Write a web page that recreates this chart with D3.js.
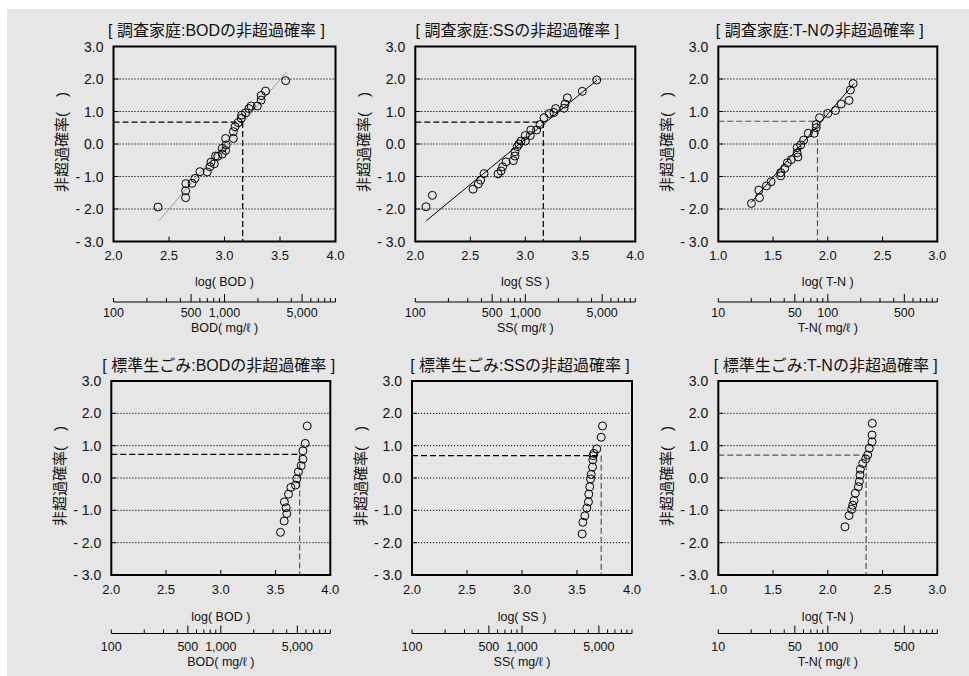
<!DOCTYPE html>
<html><head><meta charset="utf-8">
<script src="https://cdn.jsdelivr.net/npm/d3@7/dist/d3.min.js"></script>
<style>body{margin:0;background:#fff}svg{display:block}</style>
</head><body><svg id="c" width="969" height="676"></svg>
<script>
// ---------- data ----------
const titles = ["[ 調査家庭:BODの非超過確率 ]","[ 調査家庭:SSの非超過確率 ]","[ 調査家庭:T-Nの非超過確率 ]",
                "[ 標準生ごみ:BODの非超過確率 ]","[ 標準生ごみ:SSの非超過確率 ]","[ 標準生ごみ:T-Nの非超過確率 ]"];
const params = ["BOD","SS","T-N","BOD","SS","T-N"];
const xMins = [2,2,1,2,2,1];
const xMaxs = [4,4,3,4,4,3];
const yTicks = [3,2,1,0,-1,-2,-3];
const gridValues = [2,1,0,-1,-2];
const yLabel = "非超過確率(　)";

const homeBodX = [2.401,2.650,2.650,2.652,2.707,2.734,2.779,2.845,2.869,2.878,2.908,2.920,2.940,2.980,2.980,3.010,3.015,3.010,3.080,3.080,3.095,3.124,3.151,3.155,3.190,3.220,3.240,3.296,3.330,3.330,3.370,3.551];
const homeBodY = [-1.94,-1.65,-1.44,-1.22,-1.21,-1.06,-0.85,-0.86,-0.70,-0.56,-0.61,-0.37,-0.38,-0.31,-0.13,-0.20,-0.03,0.17,0.17,0.38,0.53,0.66,0.79,0.89,0.96,1.09,1.17,1.17,1.35,1.49,1.63,1.95];
const homeSsX = [2.097,2.155,2.525,2.573,2.594,2.625,2.752,2.779,2.794,2.825,2.891,2.906,2.906,2.927,2.943,2.961,3.000,3.000,3.045,3.050,3.103,3.134,3.170,3.218,3.260,3.276,3.352,3.361,3.382,3.518,3.649];
const homeSsY = [-1.93,-1.58,-1.39,-1.23,-1.11,-0.91,-0.92,-0.83,-0.70,-0.55,-0.51,-0.37,-0.24,-0.08,0.00,0.09,0.09,0.26,0.26,0.43,0.43,0.60,0.81,0.94,0.97,1.09,1.10,1.23,1.42,1.62,1.97];
const homeTnX = [1.303,1.376,1.370,1.440,1.482,1.570,1.570,1.606,1.631,1.667,1.727,1.720,1.720,1.752,1.779,1.822,1.876,1.894,1.894,1.925,2.000,2.070,2.122,2.194,2.206,2.231];
const homeTnY = [-1.83,-1.65,-1.42,-1.29,-1.16,-0.98,-0.88,-0.75,-0.58,-0.48,-0.40,-0.27,-0.11,-0.03,0.12,0.33,0.33,0.50,0.60,0.81,0.94,1.03,1.23,1.34,1.66,1.86];
const foodBodX = [3.545,3.579,3.603,3.597,3.581,3.618,3.640,3.682,3.695,3.709,3.734,3.750,3.750,3.771,3.789];
const foodBodY = [-1.68,-1.33,-1.10,-0.92,-0.74,-0.50,-0.29,-0.22,-0.02,0.19,0.38,0.58,0.84,1.07,1.61];
const foodSsX = [3.547,3.553,3.571,3.589,3.604,3.607,3.616,3.623,3.629,3.641,3.644,3.647,3.653,3.680,3.720,3.732];
const foodSsY = [-1.73,-1.37,-1.17,-0.93,-0.74,-0.50,-0.27,-0.03,0.11,0.34,0.56,0.69,0.76,0.90,1.26,1.61];
const foodTnX = [2.157,2.194,2.218,2.227,2.239,2.251,2.279,2.288,2.294,2.297,2.319,2.346,2.364,2.379,2.404,2.404,2.406];
const foodTnY = [-1.51,-1.16,-0.97,-0.84,-0.70,-0.47,-0.27,-0.11,0.09,0.27,0.45,0.59,0.71,0.92,1.12,1.33,1.69];

// fitted lines: [x0, y0, x1, y1] (null = none)
const fitLines = [[2.41,-2.36,3.56,2.22],[2.10,-2.36,3.65,1.96],[1.30,-1.80,2.24,1.86],null,null,null];
// 75% reference (x at quantile, non-exceedance value)
const refX = [3.164,3.164,1.906,3.72,3.72,2.35];
const refY = [0.674,0.674,0.70,0.73,0.69,0.71];

const concTicksBodSs = [100,200,300,400,500,600,700,800,900,1000,2000,3000,4000,5000,6000,7000,8000,9000,10000];
const concLabelsBodSs = [100,500,1000,5000];
const concTicksTn = [10,20,30,40,50,60,70,80,90,100,200,300,400,500,600,700,800,900,1000];
const concLabelsTn = [10,50,100,500];

const seriesX = [homeBodX, homeSsX, homeTnX, foodBodX, foodSsX, foodTnX];
const seriesY = [homeBodY, homeSsY, homeTnY, foodBodY, foodSsY, foodTnY];

// ---------- layout ----------
const lefts = [113.5, 415.3, 718.3, 111.3, 412, 718.3];
const widths = [222, 220, 219, 219, 220, 219];
const rowTop = [46.5, 381];
const rowBottom = [241.5, 575];

const svg = d3.select("#c");
svg.append("rect").attr("x",7).attr("y",9).attr("width",969-7).attr("height",676-9).attr("fill","#e6e6e6");

const latin = "'Liberation Sans', Arial, 'Noto Sans CJK JP', sans-serif";
const yfmt = v => v < 0 ? "- " + Math.abs(v).toFixed(1) : v.toFixed(1);

for (let i = 0; i < 6; i++) {
  const row = i < 3 ? 0 : 1;
  const L = lefts[i], W = widths[i], T = rowTop[row], B = rowBottom[row], H = B - T;
  const x = d3.scaleLinear().domain([xMins[i], xMaxs[i]]).range([L, L + W]);
  const y = d3.scaleLinear().domain([-3, 3]).range([B, T]);
  const g = svg.append("g");
  const isTn = params[i] === "T-N";

  // title
  g.append("text").attr("x", L + W/2 - (row === 0 ? 8 : 2)).attr("y", T - 16)
    .attr("text-anchor","middle").attr("dominant-baseline","central")
    .style("font-family", latin).style("font-size","16px").attr("fill","#111").text(titles[i]);

  // gridlines
  g.selectAll(".grid").data(gridValues).join("line")
    .attr("x1", L).attr("x2", L + W).attr("y1", d => y(d)).attr("y2", d => y(d))
    .attr("stroke","#000").attr("stroke-width",1).attr("stroke-dasharray","1.2,1.8");

  // fit line
  if (fitLines[i]) {
    const f = fitLines[i];
    g.append("line").attr("x1", x(f[0])).attr("y1", y(f[1])).attr("x2", x(f[2])).attr("y2", y(f[3]))
      .attr("stroke", i === 0 ? "#8c8c8c" : "#000").attr("stroke-width", i === 0 ? 0.8 : 1);
  }

  // reference dashed lines
  const hCol = (i === 2 || i === 5) ? "#555" : "#000";
  const vCol = (i >= 2) ? "#555" : "#000";
  g.append("line").attr("x1", L).attr("x2", x(refX[i])).attr("y1", y(refY[i])).attr("y2", y(refY[i]))
    .attr("stroke", hCol).attr("stroke-width",1.2).attr("stroke-dasharray","6,3");
  g.append("line").attr("x1", x(refX[i])).attr("x2", x(refX[i])).attr("y1", y(refY[i])).attr("y2", B)
    .attr("stroke", vCol).attr("stroke-width",1.2).attr("stroke-dasharray","6,3");

  // points
  g.selectAll(".pt").data(seriesX[i].map((v, k) => [v, seriesY[i][k]])).join("circle")
    .attr("cx", d => x(d[0])).attr("cy", d => y(d[1])).attr("r", 4)
    .attr("fill","none").attr("stroke","#000").attr("stroke-width",1);

  // frame
  g.append("rect").attr("x", L).attr("y", T).attr("width", W).attr("height", H)
    .attr("fill","none").attr("stroke","#000").attr("stroke-width",2);

  // x ticks (inside) & labels
  const xt = d3.range(xMins[i], xMaxs[i] + 0.001, 0.5);
  g.selectAll(".xt").data(xt.slice(1, -1)).join("line")
    .attr("x1", d => x(d)).attr("x2", d => x(d)).attr("y1", B).attr("y2", B - 5)
    .attr("stroke","#000").attr("stroke-width",1);
  g.selectAll(".xl").data(xt).join("text")
    .attr("x", d => x(d)).attr("y", B + 14).attr("text-anchor","middle").attr("dominant-baseline","central")
    .style("font-family", latin).style("font-size","13px").attr("fill","#111").text(d => d.toFixed(1));

  // y ticks (inside) & labels
  g.selectAll(".yt").data(yTicks.slice(1, -1)).join("line")
    .attr("x1", L).attr("x2", L + 5).attr("y1", d => y(d)).attr("y2", d => y(d))
    .attr("stroke","#000").attr("stroke-width",1);
  g.selectAll(".yl").data(yTicks).join("text")
    .attr("x", L - 10).attr("y", d => y(d)).attr("text-anchor","end").attr("dominant-baseline","central")
    .style("font-family", latin).style("font-size","14px").attr("fill","#111").text(yfmt);

  // y axis title
  g.append("text").attr("transform", `translate(${L - 52},${(T + B)/2 - 2}) rotate(-90)`)
    .attr("text-anchor","middle").attr("dominant-baseline","central")
    .style("font-family", latin).style("font-size","15px").attr("fill","#111").text(yLabel);

  // x axis title
  g.append("text").attr("x", L + W/2).attr("y", B + (row === 0 ? 40.5 : 42))
    .attr("text-anchor","middle").attr("dominant-baseline","central")
    .style("font-family", latin).style("font-size","12.5px").attr("fill","#111").text(`log( ${params[i]} )`);

  // secondary concentration axis
  const cTicks = isTn ? concTicksTn : concTicksBodSs;
  const cLabels = isTn ? concLabelsTn : concLabelsBodSs;
  const ay = B + (row === 0 ? 60.5 : 58.5);
  const cx = v => x(Math.log10(v));
  g.append("line").attr("x1", cx(cTicks[0])).attr("x2", cx(cTicks[cTicks.length-1])).attr("y1", ay).attr("y2", ay)
    .attr("stroke","#000").attr("stroke-width",1.2);
  g.selectAll(".ct").data(cTicks).join("line")
    .attr("x1", d => cx(d)).attr("x2", d => cx(d)).attr("y1", ay)
    .attr("y2", (d, k) => (cLabels.includes(d) && k > 0) ? ay - 8 : ay - 4)
    .attr("stroke","#000").attr("stroke-width",1);
  g.selectAll(".cl").data(cLabels).join("text")
    .attr("x", d => cx(d)).attr("y", ay + (row === 0 ? 10.5 : 13)).attr("text-anchor","middle").attr("dominant-baseline","central")
    .style("font-family", latin).style("font-size","12.5px").attr("fill","#111").text(d => d3.format(",")(d));
  g.append("text").attr("x", L + W/2).attr("y", ay + (row === 0 ? 25.5 : 28.5))
    .attr("text-anchor","middle").attr("dominant-baseline","central")
    .style("font-family", latin).style("font-size","12.5px").attr("fill","#111").text(`${params[i]}( mg/ℓ )`);
}
</script></body></html>
